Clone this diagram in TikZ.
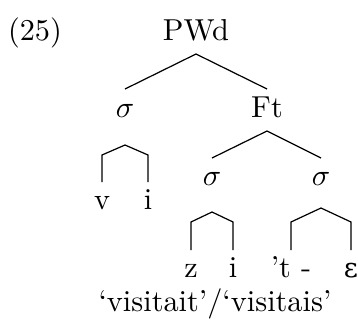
\documentclass[tikz,border=0pt]{standalone}
\usepackage{fontspec}
\newfontfamily\ipafont{DejaVu Serif}
\usetikzlibrary{calc}
\tikzset{
  lab/.style={inner sep=0pt,anchor=base},
  branch/.style={line width=0.4pt}
}
\begin{document}
\begin{tikzpicture}[x=0.33pt,y=-0.33pt]
    \useasboundingbox (0,0) rectangle (358,334);
    \node[lab] (num) at (35,40) {(25)};
    \node[lab] (pwd) at (196,40) {PWd};
    \node[lab] (sig1) at (125,117) {$\sigma$};
    \node[lab] (ft) at (267,117) {Ft};
    \node[lab] (sig2) at (212,185) {$\sigma$};
    \node[lab] (sig3) at (321,185) {$\sigma$};
    \node[lab] (v) at (102,209) {v};
    \node[lab] (i1) at (148,209) {i};
    \node[lab] (z) at (191,277) {z};
    \node[lab] (i2) at (233,277) {i};
    \node[lab] (t) at (291,277) {'t -};
    \node[lab] (eps) at (351,277) {\ipafont\small ɛ};
    \node[lab] (gloss) at (215,311) {`visitait'/`visitais'};
    % feet and words
    \draw[branch] ($(pwd.base)+(0,14)$) -- ($(sig1.base)+(0,-28)$);
    \draw[branch] ($(pwd.base)+(0,14)$) -- ($(ft.base)+(0,-28)$);
    \draw[branch] ($(ft.base)+(0,14)$) -- ($(sig2.base)+(0,-27)$);
    \draw[branch] ($(ft.base)+(0,14)$) -- ($(sig3.base)+(0,-27)$);
    % syllables
    \draw[branch] ($(v.base)+(0,-27)$) -- ($(v.base)+(0,-54)$) -- ($(sig1.base)+(0,28)$)
        -- ($(i1.base)+(0,-54)$) -- ($(i1.base)+(0,-27)$);
    \draw[branch] ($(z.base)+(0,-27)$) -- ($(z.base)+(0,-55)$) -- ($(sig2.base)+(0,27)$)
        -- ($(i2.base)+(0,-55)$) -- ($(i2.base)+(0,-27)$);
    \draw[branch] ($(t.base)+(0,-27)$) -- ($(t.base)+(0,-55)$) -- ($(sig3.base)+(0,23)$)
        -- ($(eps.base)+(0,-55)$) -- ($(eps.base)+(0,-27)$);
\end{tikzpicture}
\end{document}
